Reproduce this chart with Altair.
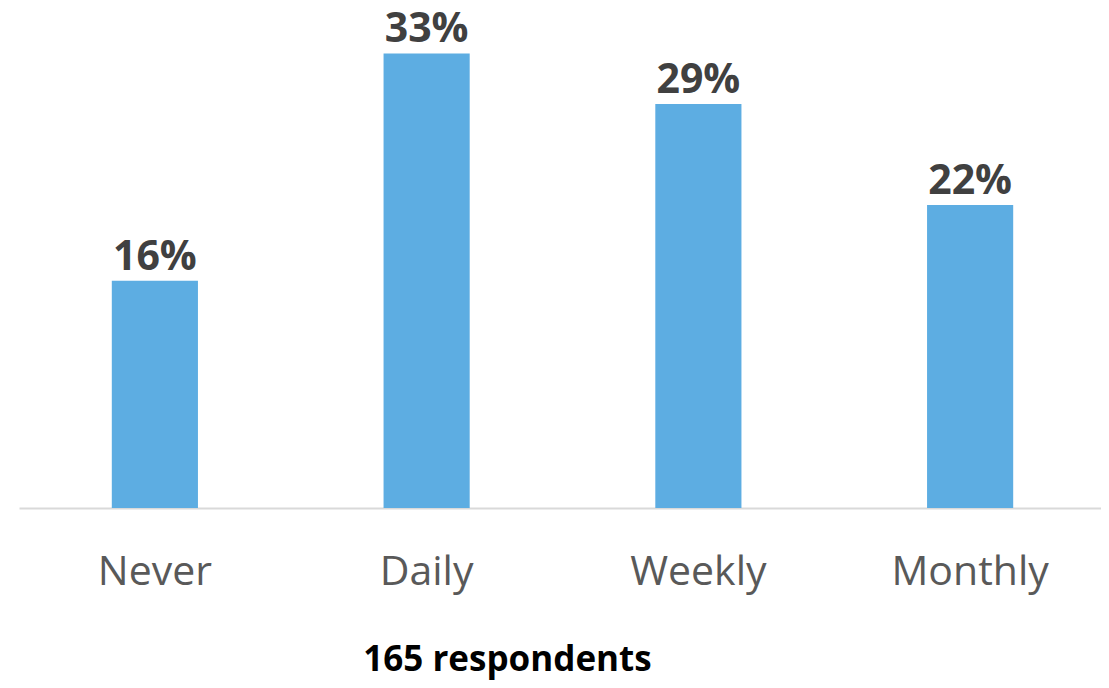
import altair as alt
import pandas as pd

categories = ["Never", "Daily", "Weekly", "Monthly"]
counts = [27, 54, 48, 36]
total = 165
labels = ["16%", "33%", "29%", "22%"]

df = pd.DataFrame({
    "cat": categories,
    "pct": [c / total * 100 for c in counts],
    "label": labels,
})

FONT = "Open Sans"

x_enc = alt.X(
    "cat:N",
    sort=categories,
    scale=alt.Scale(paddingInner=0.683, paddingOuter=0.3415, range=[0, 1087]),
    axis=alt.Axis(
        title="165 respondents",
        titleFont=FONT,
        titleFontSize=35,
        titleFontWeight="bold",
        titleColor="#000000",
        titleX=488,
        titleY=162,
        titleAlign="center",
        titleBaseline="alphabetic",
        titleAngle=0,
        labelFont=FONT,
        labelFontSize=41,
        labelColor="#595959",
        labelAngle=0,
        labelBaseline="alphabetic",
        labelPadding=76,
        ticks=False,
        tickSize=0,
        domainColor="#d9d9d9",
        domainWidth=2,
        grid=False,
    ),
)
y_enc = alt.Y("pct:Q", scale=alt.Scale(domain=[0, 36], nice=False, zero=True), axis=None)

bars = alt.Chart(df).mark_bar(color="#5DADE2").encode(x=x_enc, y=y_enc)
text = alt.Chart(df).mark_text(
    font=FONT, fontSize=41, fontWeight="bold", color="#404040",
    baseline="alphabetic", dy=-11,
).encode(x=alt.X("cat:N", sort=categories), y=alt.Y("pct:Q"), text="label:N")

chart = (bars + text).properties(
    width=1082,
    height=500,
    autosize=alt.AutoSizeParams(type="none"),
    padding={"left": 11, "top": 0, "right": 0, "bottom": 172},
).configure_view(stroke=None)

chart.save("out.html", embed_options={"renderer": "svg", "actions": False})
